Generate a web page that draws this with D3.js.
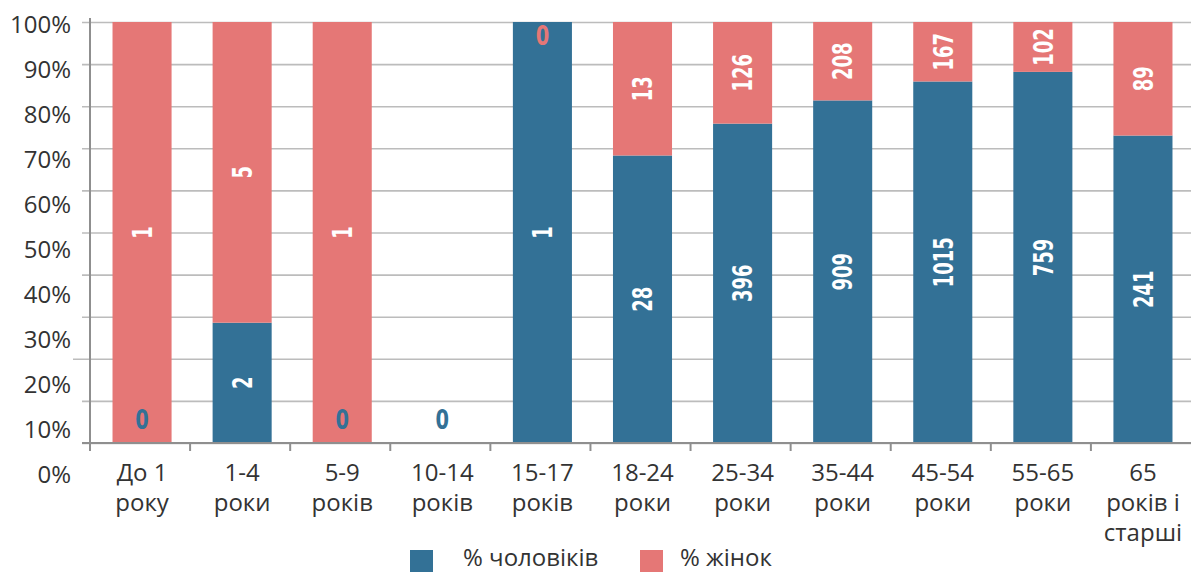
<!DOCTYPE html>
<html>
<head>
<meta charset="utf-8">
<script src="https://cdn.jsdelivr.net/npm/d3@7/dist/d3.min.js"></script>
<style>
  html, body { margin: 0; padding: 0; background: #ffffff; }
  svg { display: block; }
  .txt { font-family: "Open Sans", "Noto Sans", sans-serif; fill: #333333; }
  .val { font-family: "Liberation Sans Narrow", "DejaVu Sans Condensed", sans-serif; font-weight: bold; }
</style>
</head>
<body>
<svg id="chart" width="1191" height="572"></svg>
<script>
// Age groups (line breaks marked with "\n")
const categories = [
  "До 1\nроку", "1-4\nроки", "5-9\nроків", "10-14\nроків", "15-17\nроків",
  "18-24\nроки", "25-34\nроки", "35-44\nроки", "45-54\nроки", "55-65\nроки",
  "65\nроків і\nстарші"
];
// Counts per age group
const men   = [0, 2, 0, 0, 1, 28, 396, 909, 1015, 759, 241];
const women = [1, 5, 1, 0, 0, 13, 126, 208, 167, 102, 89];
// Axis ticks
const yTicks = [0, 0.1, 0.2, 0.3, 0.4, 0.5, 0.6, 0.7, 0.8, 0.9, 1];
const yTickLabels = ["0%", "10%", "20%", "30%", "40%", "50%", "60%", "70%", "80%", "90%", "100%"];
const seriesNames = ["% чоловіків", "% жінок"];

const colMen = "#337196";
const colWomen = "#e57776";

const svg = d3.select("#chart");
const plotL = 90, plotR = 1191, plotT = 22, plotB = 443;

// category slots (axis ticks) and the bars placed within them
const xAxisBand = d3.scaleBand().domain(categories).range([plotL, plotR]);
const x = d3.scaleBand().domain(categories).range([plotL + 2, plotR + 2])
  .paddingInner(0.41).paddingOuter(0.205);
const y = d3.scaleLinear().domain([0, 1]).range([plotB, plotT]);
// tick labels sit on their own, slightly wider spacing
const yLab = d3.scaleLinear().domain([0, 1]).range([474, 24]);

// horizontal gridlines with short outward ticks
const grid = svg.append("g")
  .attr("transform", `translate(${plotL},0)`)
  .call(d3.axisLeft(y).tickValues(yTicks).tickSize(-(plotR - plotL)).tickFormat(""));
grid.select(".domain").remove();
grid.selectAll(".tick line")
  .attr("x1", d => d === 0.2 ? -17 : -8)
  .attr("stroke", "#bcbcbc").attr("stroke-width", 1.6);

// left axis labels
const yAxis = svg.append("g")
  .attr("transform", "translate(71,0)")
  .call(d3.axisLeft(yLab).tickValues(yTicks).tickSize(0)
    .tickFormat((d, i) => yTickLabels[i]));
yAxis.select(".domain").remove();
yAxis.selectAll("text")
  .attr("class", "txt").attr("x", 0).attr("dy", "0.36em")
  .style("font-size", "24px").style("fill", "#333333")
  .style("font-family", "'Open Sans', 'Noto Sans', sans-serif");

// stacked bars (share of total)
const shares = categories.map((c, i) => {
  const t = men[i] + women[i];
  return { cat: c, m: men[i], w: women[i], pm: t ? men[i] / t : 0, pw: t ? women[i] / t : 0, t };
});

svg.append("g").selectAll("rect").data(shares).join("rect")
  .attr("x", d => x(d.cat)).attr("width", x.bandwidth())
  .attr("y", d => y(d.pm)).attr("height", d => y(0) - y(d.pm))
  .attr("fill", colMen);
svg.append("g").selectAll("rect").data(shares).join("rect")
  .attr("x", d => x(d.cat)).attr("width", x.bandwidth())
  .attr("y", d => y(d.pm + d.pw)).attr("height", d => y(d.pm) - y(d.pm + d.pw))
  .attr("fill", colWomen);

// axis lines
svg.append("line").attr("x1", plotL).attr("x2", plotL).attr("y1", plotT - 4).attr("y2", plotB + 1)
  .attr("stroke", "#8f8f8f").attr("stroke-width", 2);
svg.append("line").attr("x1", plotL - 8).attr("x2", plotR).attr("y1", plotB).attr("y2", plotB)
  .attr("stroke", "#8f8f8f").attr("stroke-width", 2);
svg.append("g").selectAll("line").data(categories).join("line")
  .attr("x1", d => xAxisBand(d)).attr("x2", d => xAxisBand(d))
  .attr("y1", plotB).attr("y2", plotB + 8)
  .attr("stroke", "#8f8f8f").attr("stroke-width", 2);

// category labels
const labelX = d => x(d) + x.bandwidth() / 2;
const cl = svg.append("g").selectAll("text").data(categories).join("text")
  .attr("class", "txt").attr("text-anchor", "middle").style("font-size", "24px")
  .attr("x", labelX).attr("y", 481);
cl.each(function (d) {
  const t = d3.select(this);
  d.split("\n").forEach((s, k) => {
    t.append("tspan").attr("x", labelX(d)).attr("y", 481 + k * 30).text(s);
  });
});

// value labels (narrowed along the reading direction)
const vals = svg.append("g");
function valLabel(cx, cy, rotated, color, v) {
  vals.append("text").attr("class", "val").attr("text-anchor", "middle").attr("dy", "0.36em")
    .attr("transform", `translate(${cx},${cy})` + (rotated ? " rotate(-90) scale(0.74,1)" : " scale(0.8,1)"))
    .style("font-size", "27px").attr("fill", color).text(v);
}
shares.forEach(d => {
  const cx = x(d.cat) + x.bandwidth() / 2;
  if (d.m > 0) valLabel(cx, (y(0) + y(d.pm)) / 2, true, "#ffffff", d.m);
  else valLabel(cx, y(0) - 24, false, colMen, d.m);
  if (d.w > 0) valLabel(cx, (y(d.pm) + y(d.pm + d.pw)) / 2, true, "#ffffff", d.w);
  else if (d.t > 0) valLabel(cx, y(1) + 13, false, colWomen, d.w);
});

// legend
const legend = svg.append("g");
const legItems = [
  { name: seriesNames[0], color: colMen, sx: 410, tx: 463 },
  { name: seriesNames[1], color: colWomen, sx: 640, tx: 680 }
];
legItems.forEach(it => {
  legend.append("rect").attr("x", it.sx).attr("y", 550).attr("width", 23).attr("height", 23)
    .attr("fill", it.color);
  legend.append("text").attr("class", "txt").attr("x", it.tx).attr("y", 566)
    .style("font-size", "24px").text(it.name);
});
</script>
</body>
</html>
